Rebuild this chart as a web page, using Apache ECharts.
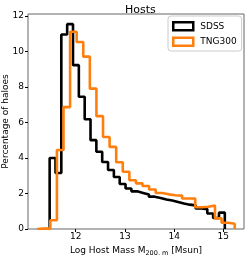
<!DOCTYPE html>
<html><head><meta charset="utf-8">
<script src="https://cdn.jsdelivr.net/npm/echarts@6/dist/echarts.min.js"></script>
<style>html,body{margin:0;padding:0;background:#fff}#c{width:249px;height:255px}</style>
</head><body><div id="c"></div>
<script>
// Data (percentage of haloes per bin, 30 equal-width bins each)
const sdssRange = [11.47, 15.03];
const sdssValues = [4.0, 3.15, 10.95, 11.53, 9.22, 7.44, 6.18, 5.0, 4.35, 3.77, 3.32, 2.93, 2.53, 2.28, 2.12, 2.03, 1.94, 1.82, 1.75, 1.66, 1.6, 1.52, 1.43, 1.37, 1.33, 1.16, 1.12, 0.87, 0.62, 0.92];
const tngRange = [11.216, 15.232];
const tngValues = [0.02, 0.02, 0.49, 4.45, 6.86, 11.1, 10.52, 9.7, 7.9, 6.35, 5.18, 4.62, 3.76, 3.22, 2.74, 2.57, 2.42, 2.22, 2.03, 1.95, 1.9, 1.88, 1.72, 1.72, 1.22, 1.25, 1.32, 0.6, 0.35, 0.3];
const seriesNames = ['SDSS', 'TNG300'];
const xTicks = [12, 13, 14, 15];
const yTicks = [0, 2, 4, 6, 8, 10, 12];

function stepPath(range, vals) {
  const n = vals.length, w = (range[1] - range[0]) / n;
  const pts = [[range[0], 0]];
  for (let i = 0; i < n; i++) {
    const a = range[0] + i * w, b = range[0] + (i + 1) * w;
    pts.push([a, vals[i]], [b, vals[i]]);
  }
  pts.push([range[1], 0]);
  return pts;
}

const font = 'DejaVu Sans';
const chart = echarts.init(document.getElementById('c'), null, {renderer: 'canvas'});
chart.setOption({
  animation: false,
  backgroundColor: '#fff',
  textStyle: {fontFamily: font},
  title: {
    text: 'Hosts', left: 120, top: 0,
    textStyle: {fontFamily: font, fontSize: 11, fontWeight: 'normal', color: '#000'}
  },
  grid: {left: 28, right: 5, top: 14, bottom: 26, show: true, borderColor: '#666', borderWidth: 1, backgroundColor: 'transparent', outerBoundsMode: 'none'},
  legend: {
    orient: 'vertical', left: 168, top: 16, align: 'left',
    padding: [5, 5, 4, 4], itemWidth: 20, itemHeight: 8, itemGap: 5,
    backgroundColor: '#fff', borderColor: '#ccc', borderWidth: 1, borderRadius: 3,
    icon: 'rect',
    textStyle: {fontFamily: font, fontSize: 9, color: '#000', padding: [0, 0, 0, 2]},
    data: [
      {name: seriesNames[0], itemStyle: {color: '#fff', borderColor: '#000', borderWidth: 2.5}},
      {name: seriesNames[1], itemStyle: {color: '#fff', borderColor: '#ff7f0e', borderWidth: 2.5}}
    ]
  },
  xAxis: {
    type: 'value', min: 11.03, max: 15.42,
    name: '{n|Log Host Mass M}{s|200, m}{n| [Msun]}', nameLocation: 'middle', nameGap: 14,
    nameTextStyle: {rich: {n: {fontFamily: font, fontSize: 9, color: '#000'}, s: {fontFamily: font, fontSize: 6.5, color: '#000', padding: [5, 0, 0, 0]}}},
    axisLine: {show: false},
    axisTick: {show: true, length: 3, customValues: xTicks, lineStyle: {color: '#000'}},
    axisLabel: {customValues: xTicks, fontFamily: font, fontSize: 9, color: '#000', margin: 3},
    splitLine: {show: false}
  },
  yAxis: {
    type: 'value', min: 0, max: 12.1,
    name: 'Percentage of haloes', nameLocation: 'middle', nameGap: 18, nameRotate: 90, nameMoveOverlap: false,
    nameTextStyle: {fontFamily: font, fontSize: 9, color: '#000', verticalAlign: 'bottom'},
    axisLine: {show: false},
    axisTick: {show: true, length: 3, customValues: yTicks, lineStyle: {color: '#000'}},
    axisLabel: {customValues: yTicks, fontFamily: font, fontSize: 9, color: '#000', margin: 4},
    splitLine: {show: false}
  },
  series: [
    {name: seriesNames[0], type: 'line', data: stepPath(sdssRange, sdssValues), symbol: 'none', color: '#000',
     lineStyle: {color: '#000', width: 2.6}, z: 2},
    {name: seriesNames[1], type: 'line', data: stepPath(tngRange, tngValues), symbol: 'none', color: '#ff7f0e',
     lineStyle: {color: '#ff7f0e', width: 2.6}, z: 3}
  ]
});
</script></body></html>
